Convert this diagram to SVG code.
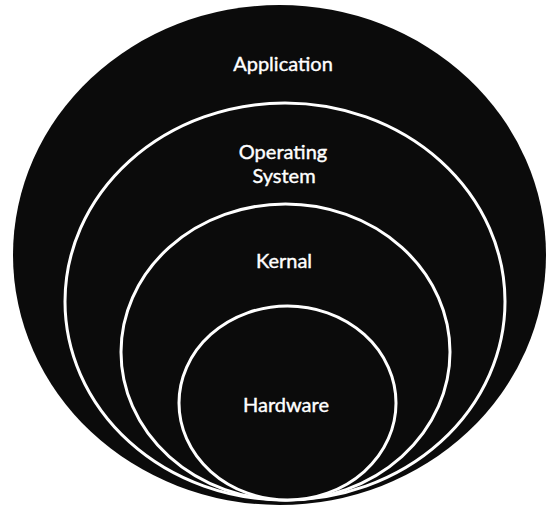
<svg xmlns="http://www.w3.org/2000/svg" width="547" height="507" viewBox="0 0 547 507">
  <style>
    .layer { fill: #0b0b0b; stroke: #ffffff; stroke-width: 3; }
    .outer { fill: #0b0b0b; stroke: none; }
    .label { fill: #ffffff; stroke: #ffffff; stroke-width: 0.4; font-family: Lato, "Open Sans", "DejaVu Sans", sans-serif; font-size: 20px; text-anchor: middle; }
  </style>
  <rect x="0" y="0" width="547" height="507" fill="#ffffff"/>
  <g id="application">
    <ellipse class="outer" cx="279.5" cy="255" rx="266.5" ry="250"/>
    <text class="label" x="283" y="71">Application</text>
  </g>
  <g id="operating-system">
    <ellipse class="layer" cx="285" cy="301.5" rx="220" ry="198.5"/>
    <text class="label" x="283" y="158.5">Operating</text>
    <text class="label" x="284" y="183">System</text>
  </g>
  <g id="kernal">
    <ellipse class="layer" cx="285.5" cy="352" rx="164.5" ry="148"/>
    <text class="label" x="284" y="268">Kernal</text>
  </g>
  <g id="hardware">
    <ellipse class="layer" cx="287.5" cy="403" rx="108.5" ry="97"/>
    <text class="label" x="286" y="412">Hardware</text>
  </g>
</svg>
